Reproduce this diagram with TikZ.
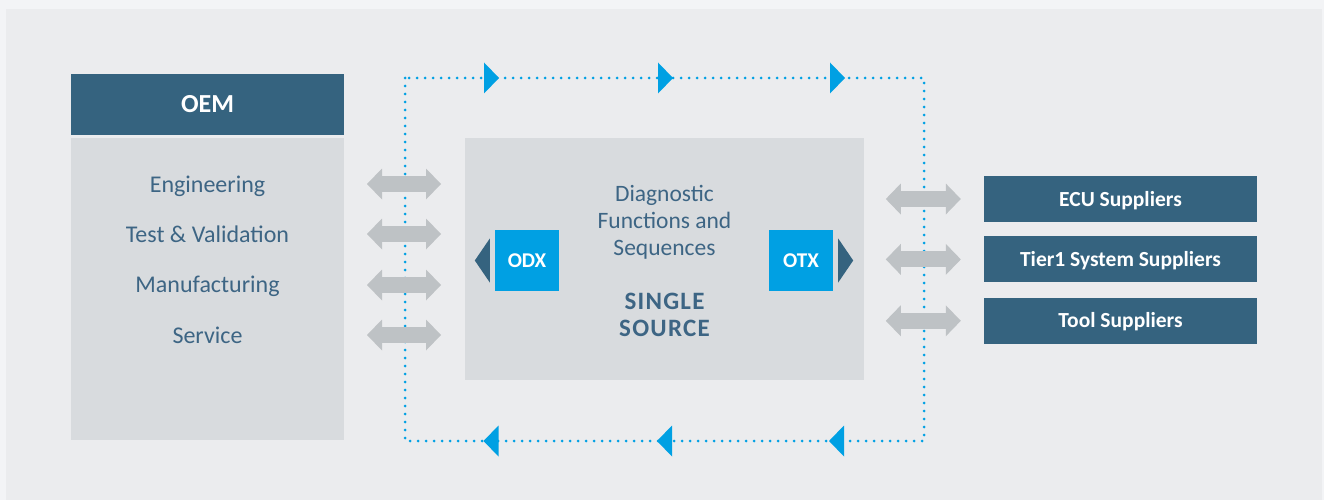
\documentclass[tikz,border=0pt]{standalone}
\usepackage{fontspec}
\setmainfont{Carlito}
\usepackage{xcolor}
\usetikzlibrary{positioning,arrows.meta}
\definecolor{outerbg}{HTML}{F3F4F6}
\definecolor{panel}{HTML}{EBECEE}
\definecolor{boxgray}{HTML}{D8DBDE}
\definecolor{slate}{HTML}{35637F}
\definecolor{flowblue}{HTML}{00A0E3}
\definecolor{arrowgray}{HTML}{BEC2C5}
\definecolor{textblue}{HTML}{3D6584}
\tikzset{
  box/.style={
      fill=boxgray,
      inner sep=0pt
    },
  darkbox/.style={
      fill=slate,
      text=white,
      inner sep=0pt,
      minimum width=273pt,
      text height=14pt,
      text depth=0pt,
      font=\fontsize{21.5}{25}\selectfont\bfseries
    },
  tagbox/.style={
      fill=flowblue,
      text=white,
      inner sep=0pt,
      minimum width=64pt,
      minimum height=61pt,
      text height=13.5pt,
      text depth=0pt,
      font=\fontsize{21}{25}\selectfont\bfseries
    },
  listtext/.style={
      text=textblue,
      anchor=base,
      inner sep=0pt,
      font=\fontsize{24}{28}\selectfont
    },
  desctext/.style={
      listtext,
      font=\fontsize{23.5}{27}\selectfont
    },
  bigtext/.style={
      listtext,
      font=\fontsize{25}{30}\selectfont\bfseries\addfontfeature{LetterSpace=5}
    },
  grayarrow/.style={
      draw=arrowgray,
      line width=16pt,
      {Triangle[length=15pt,width=31pt,line width=0pt]}-{Triangle[length=15pt,width=31pt,line width=0pt]}
    },
  flowline/.style={
      draw=flowblue,
      line width=3pt,
      line cap=round,
      dash pattern=on 0pt off 8pt
    },
  flowtri/.pic={
      \fill[flowblue] (-7.5,-15.5) -- (7.5,0) -- (-7.5,15.5) -- cycle;
    }
}
\begin{document}
\begin{tikzpicture}[x=1pt,y=-1pt]
\useasboundingbox (0,0) rectangle (1324,500);
% background
\fill[outerbg] (0,0) rectangle (1324,500);
\fill[panel] (6,9) rectangle (1322,500);

% the dotted loop
\coordinate (loop-nw) at (405,78);
\coordinate (loop-se) at (924,441);
\draw[flowline] (loop-nw) rectangle (loop-se);
\path
  (491.5,78) pic {flowtri}
  (665.5,78) pic {flowtri}
  (837.5,78) pic {flowtri};
\path
  (491,441) pic[rotate=180] {flowtri}
  (664.5,441) pic[rotate=180] {flowtri}
  (836.5,441) pic[rotate=180] {flowtri};

% the shapes
\node[darkbox, minimum height=61pt, text height=17pt, font=\fontsize{26}{30}\selectfont\bfseries]
  at (207.5,104.5) (oem) {OEM};
\node[box, minimum width=273pt, minimum height=302pt]
  at (207.5,289) (oembody) {};
\foreach \txt [count=\i] in {Engineering,Test \& Validation,Manufacturing,Service}
  \node[listtext] at (207.5,{192+50.4*(\i-1)}) (oem-\i) {\txt};

\node[box, minimum width=399pt, minimum height=242pt]
  at (664.5,259) (source) {};
\foreach \txt [count=\i] in {Diagnostic,Functions and,Sequences}
  \node[desctext] at (664.5,{174.5+27*\i}) (desc-\i) {\txt};
\node[bigtext] at (664.5,309) (single) {SINGLE};
\node[bigtext] at (664.5,336) (sourcetxt) {SOURCE};

\node[tagbox] at (527,260.5) (odx) {ODX};
\node[tagbox] at (801,260.5) (otx) {OTX};
\fill[slate]
  ([xshift=-5pt,yshift=22pt]odx.west) --
  ([xshift=-5pt,yshift=-22pt]odx.west) --
  ([xshift=-20pt]odx.west) -- cycle;
\fill[slate]
  ([xshift=5pt,yshift=22pt]otx.east) --
  ([xshift=5pt,yshift=-22pt]otx.east) --
  ([xshift=20pt]otx.east) -- cycle;

\node[darkbox, minimum height=46pt] at (1120.5,199) (ecu) {ECU Suppliers};
\node[darkbox, minimum height=46pt, below=14pt of ecu] (tier) {Tier1 System Suppliers};
\node[darkbox, minimum height=46pt, below=15pt of tier] (tool) {Tool Suppliers};

%the arrows
\foreach \y [count=\i] in {184,234,285,335} {
  \coordinate (la-\i) at (367,\y);
  \coordinate (lb-\i) at (441,\y);
  \draw[grayarrow] (la-\i) -- (lb-\i);
}
\foreach \n in {ecu,tier,tool}
  \draw[grayarrow] ([xshift=-98pt]\n.west) -- ([xshift=-23pt]\n.west);
\end{tikzpicture}
\end{document}
